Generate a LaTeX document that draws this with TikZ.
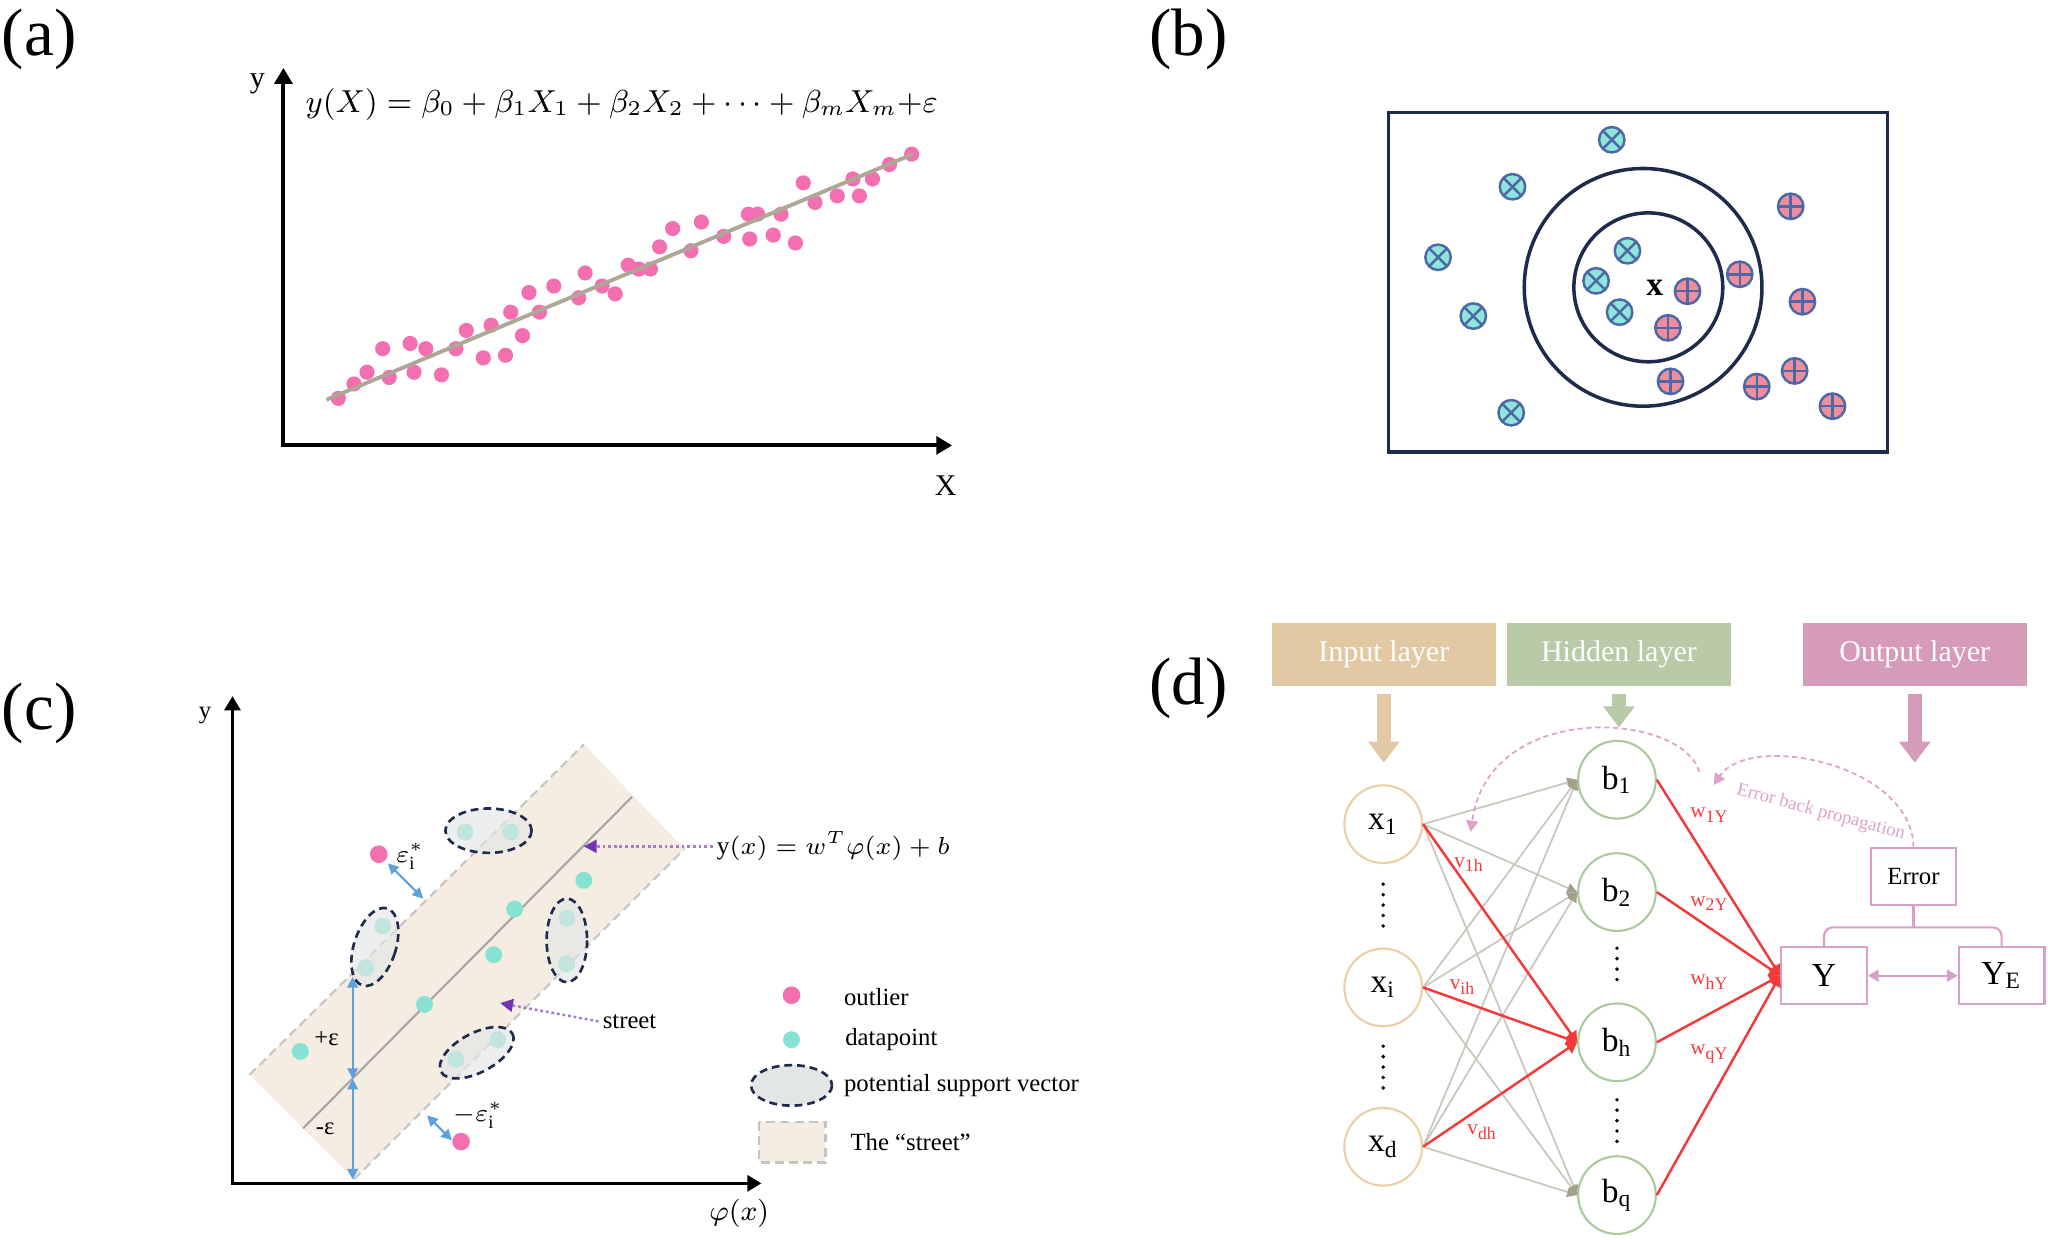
\documentclass[tikz,border=0pt]{standalone}
\usepackage{fontspec}
\setmainfont{Liberation Serif}
\usetikzlibrary{arrows.meta}
\definecolor{pinkdot}{HTML}{F46FB0}
\definecolor{reglc}{HTML}{AEA796}
\definecolor{navy}{HTML}{1E2B4B}
\definecolor{xfill}{HTML}{8FE5DA}
\definecolor{pfill}{HTML}{EF8D9C}
\definecolor{medge}{HTML}{4C68A6}
\definecolor{dptc}{HTML}{86E2D3}
\definecolor{streetc}{HTML}{F5EDE2}
\definecolor{streetln}{HTML}{C4C4C4}
\definecolor{epsblue}{HTML}{5DA0DC}
\definecolor{purpd}{HTML}{7433B0}
\definecolor{purpl}{HTML}{A57BD8}
\definecolor{svfill}{HTML}{E3E6E6}
\definecolor{inc}{HTML}{E3C9A3}
\definecolor{hidc}{HTML}{B8CAA8}
\definecolor{outc}{HTML}{D59BB9}
\definecolor{inedge}{HTML}{EBCFA6}
\definecolor{hidedge}{HTML}{ABC99C}
\definecolor{oedge}{HTML}{D7A0C9}
\definecolor{wred}{HTML}{F23A3A}
\definecolor{conng}{HTML}{CBC7BC}
\definecolor{conntip}{HTML}{A49E8B}
\definecolor{bpc}{HTML}{DDA3CB}
\begin{document}
\begin{tikzpicture}[x=0.013cm,y=-0.013cm,
    panel/.style={font=\fontsize{19}{22}\selectfont},
    axis/.style={line width=1.1pt,line join=miter,
      {Triangle[width=5pt,length=4.5pt]}-{Triangle[width=5pt,length=4.5pt]}},
    albl/.style={font=\fontsize{8.5}{10}\selectfont},
    eqn/.style={font=\fontsize{9}{11}\selectfont},
    pdot/.style={circle,fill=pinkdot,inner sep=0,minimum size=4.3pt},
    regl/.style={reglc,line width=1.1pt},
    frame/.style={navy,line width=1pt},
    xmark/.style={circle,draw=medge,line width=0.7pt,fill=xfill,inner sep=0,minimum size=7.2pt,
      path picture={\draw[medge,line width=0.7pt]
        (path picture bounding box.north west) -- (path picture bounding box.south east)
        (path picture bounding box.north east) -- (path picture bounding box.south west);}},
    pmark/.style={circle,draw=medge,line width=0.7pt,fill=pfill,inner sep=0,minimum size=7.2pt,
      path picture={\draw[medge,line width=0.7pt]
        (path picture bounding box.north) -- (path picture bounding box.south)
        (path picture bounding box.east) -- (path picture bounding box.west);}},
    sedge/.style={streetln,line width=0.6pt,dash pattern=on 2.5pt off 1.5pt},
    midl/.style={gray!70,line width=0.6pt},
    caxis/.style={line width=0.9pt,line join=miter,
      {Triangle[width=4.5pt,length=4pt]}-{Triangle[width=4.5pt,length=4pt]}},
    clbl/.style={font=\fontsize{7}{8}\selectfont,inner sep=1pt},
    cdot/.style={circle,fill=dptc,inner sep=0,minimum size=4.8pt},
    odot/.style={circle,fill=pinkdot,inner sep=0,minimum size=5pt},
    sv/.style={draw=navy,line width=0.75pt,dash pattern=on 2.2pt off 1.4pt,
      fill=svfill,fill opacity=0.65},
    eps/.style={epsblue,line width=0.6pt,
      {Triangle[width=3pt,length=3pt]}-{Triangle[width=3pt,length=3pt]}},
    parr/.style={purpl,line width=0.7pt,dash pattern=on 0.8pt off 0.8pt,
      -{Triangle[width=3.6pt,length=3.6pt,color=purpd]}},
    hdr/.style={text=white,font=\fontsize{8.5}{10}\selectfont,
      minimum width=63.4pt,minimum height=18pt,inner sep=0},
    fat/.style={line width=4pt,shorten <=2pt,-{Triangle[width=8.6pt,length=6pt]}},
    inn/.style={circle,draw=inedge,line width=0.6pt,minimum size=22pt,inner sep=0,
      font=\fontsize{9.5}{11}\selectfont},
    hid/.style={circle,draw=hidedge,line width=0.6pt,minimum size=22pt,inner sep=0,
      font=\fontsize{9.5}{11}\selectfont},
    obox/.style={draw=oedge,line width=0.6pt,minimum width=24.3pt,minimum height=16pt,
      inner sep=0,font=\fontsize{9.5}{11}\selectfont},
    vdot/.style={line width=1.1pt,line cap=round,dash pattern=on 0pt off 2.95pt},
    conn/.style={conng,line width=0.5pt,-{Triangle[width=2.8pt,length=2.8pt,color=conntip]}},
    wconn/.style={wred,line width=0.7pt,-{Triangle[width=3.6pt,length=3pt]}},
    wlab/.style={wred,font=\fontsize{6}{7}\selectfont,inner sep=0},
    bp/.style={bpc,line width=0.5pt,dash pattern=on 1.5pt off 1pt,
      -{Triangle[width=3.4pt,length=3.2pt,color=bpc]}},
    obrd/.style={oedge,line width=0.6pt}]
  \useasboundingbox (0,0) rectangle (1568,949);

  \node[panel] (pa) at (30,30) {(a)};
  \coordinate (ao) at (217,341);
  \coordinate (ay) at (217,52);
  \coordinate (ax) at (729,341);
  \draw[axis] (ay) -- (ao) -- (ax);
  \node[albl] (ylab) at (197,64) {y};
  \node[albl] (xlab) at (724,372) {X};
  \node[eqn] (eqa) at (476,80)
    {$y(X)=\beta_0+\beta_1X_1+\beta_2X_2+\cdots+\beta_mX_m{+}\varepsilon$};
  \path
    (259,305) node[pdot] (p1){}  (271,294) node[pdot] (p2){}  (281,285) node[pdot] (p3){}
    (293,267) node[pdot] (p4){}  (298,289) node[pdot] (p5){}  (314,263) node[pdot] (p6){}
    (317,285) node[pdot] (p7){}  (326,267) node[pdot] (p8){}  (338,287) node[pdot] (p9){}
    (349,267) node[pdot] (p10){} (357,253) node[pdot] (p11){} (370,274) node[pdot] (p12){}
    (376,249) node[pdot] (p13){} (387,272) node[pdot] (p14){} (391,239) node[pdot] (p15){}
    (400,257) node[pdot] (p16){} (405,224) node[pdot] (p17){} (413,239) node[pdot] (p18){}
    (424,219) node[pdot] (p19){} (443,228) node[pdot] (p20){} (448,209) node[pdot] (p21){}
    (461,219) node[pdot] (p22){} (471,225) node[pdot] (p23){} (481,203) node[pdot] (p24){}
    (489,206) node[pdot] (p25){} (498,206) node[pdot] (p26){} (505,189) node[pdot] (p27){}
    (515,175) node[pdot] (p28){} (529,192) node[pdot] (p29){} (537,170) node[pdot] (p30){}
    (554,181) node[pdot] (p31){} (573,164) node[pdot] (p32){} (574,183) node[pdot] (p33){}
    (580,164) node[pdot] (p34){} (592,180) node[pdot] (p35){} (598,164) node[pdot] (p36){}
    (609,186) node[pdot] (p37){} (615,140) node[pdot] (p38){} (624,155) node[pdot] (p39){}
    (641,150) node[pdot] (p40){} (653,137) node[pdot] (p41){} (658,150) node[pdot] (p42){}
    (668,137) node[pdot] (p43){} (681,126) node[pdot] (p44){} (698,118) node[pdot] (p45){};
  \coordinate (r0) at (250,306);
  \coordinate (r1) at (699,118);
  \draw[regl] (r0) -- (r1);

  \node[panel] (pb) at (910,30) {(b)};
  \draw[frame] (1063,86) rectangle (1445,346);
  \draw[frame] (1258,220) circle (91);
  \draw[frame] (1262,220) circle (57);
  \node[font=\fontsize{9.5}{11}\selectfont\bfseries] (xq) at (1267,220) {x};
  \path
    (1234,107) node[xmark] (n1){} (1158,143) node[xmark] (n2){} (1101,197) node[xmark] (n3){}
    (1128,242) node[xmark] (n4){} (1157,316) node[xmark] (n5){} (1246,192) node[xmark] (n6){}
    (1222,215) node[xmark] (n7){} (1240,239) node[xmark] (n8){};
  \path
    (1371,158) node[pmark] (q1){} (1332,210) node[pmark] (q2){} (1292,223) node[pmark] (q3){}
    (1277,251) node[pmark] (q4){} (1380,231) node[pmark] (q5){} (1279,292) node[pmark] (q6){}
    (1345,296) node[pmark] (q7){} (1374,284) node[pmark] (q8){} (1403,311) node[pmark] (q9){};

  \node[panel] (pc) at (30,546) {(c)};
  \fill[streetc] (191,823) -- (447,570) -- (524,650) -- (271,903) -- cycle;
  \draw[sedge] (191,823) -- (447,570);
  \draw[sedge] (271,903) -- (524,650);
  \draw[midl] (232,864) -- (484,610);
  \coordinate (co) at (178,906);
  \coordinate (cy) at (178,533);
  \coordinate (cx) at (583,906);
  \draw[caxis] (cy) -- (co) -- (cx);
  \node[clbl] (cyl) at (157,548) {y};
  \node[font=\fontsize{8}{9}\selectfont] (cxl) at (566,929) {$\varphi(x)$};
  \path
    (447,674) node[cdot] (d1){}  (394,696) node[cdot] (d2){}  (378,731) node[cdot] (d3){}
    (325,769) node[cdot] (d4){}  (230,805) node[cdot] (d5){}  (356,637) node[cdot] (d6){}
    (391,637) node[cdot] (d7){}  (293,709) node[cdot] (d8){}  (280,741) node[cdot] (d9){}
    (434,703) node[cdot] (d10){} (434,738) node[cdot] (d11){} (349,811) node[cdot] (d12){}
    (381,796) node[cdot] (d13){};
  \draw[sv] (374,636) ellipse [x radius=33, y radius=17];
  \draw[sv,rotate around={-18:(287,725)}] (287,725) ellipse [x radius=16, y radius=31];
  \draw[sv] (434,720) ellipse [x radius=15.5, y radius=32];
  \draw[sv,rotate around={28:(365,806)}] (365,806) ellipse [x radius=31, y radius=15];
  \node[odot] (o1) at (290,654) {};
  \node[odot] (o2) at (353,874) {};
  \node[font=\fontsize{7.5}{9}\selectfont,inner sep=0] (eo1) at (314,656) {$\varepsilon_{\mathrm{i}}^{*}$};
  \node[font=\fontsize{7.5}{9}\selectfont,inner sep=0] (eo2) at (366,854) {$-\varepsilon_{\mathrm{i}}^{*}$};
  \coordinate (s1) at (297,661);
  \coordinate (s2) at (324,688);
  \coordinate (s3) at (327,854);
  \coordinate (s4) at (346,873);
  \draw[eps] (s1) -- (s2);
  \draw[eps] (s3) -- (s4);
  \coordinate (e0) at (270,748);
  \coordinate (e1) at (270,826);
  \coordinate (e2) at (270,903);
  \draw[eps] (e0) -- (e1);
  \draw[eps] (e1) -- (e2);
  \node[clbl] (pe) at (250,795) {+ε};
  \node[clbl] (me) at (249,864) {-ε};
  \node[font=\fontsize{7.2}{9}\selectfont,inner sep=1pt] (eqc) at (638,648) {$\mathrm{y}(x)=w^{T}\varphi(x)+b$};
  \coordinate (t1) at (447,648);
  \draw[parr] (eqc.west) -- (t1);
  \node[clbl] (lst) at (482,782) {street};
  \coordinate (t2) at (383,768);
  \draw[parr] (lst.west) -- (t2);
  \node[odot] (lo) at (606,762) {};
  \node[cdot] (ld) at (606,796) {};
  \draw[sv,fill opacity=1] (606,831) ellipse [x radius=31, y radius=15.5];
  \draw[sedge,fill=streetc] (581,859) rectangle (632,890);
  \node[clbl,anchor=west] (llo) at (643,763) {outlier};
  \node[clbl,anchor=west] (lld) at (644,796) {datapoint};
  \node[clbl,anchor=west] (lsv) at (643,831) {potential support vector};
  \node[clbl,anchor=west] (lsr) at (648,874) {The “street”};

  \node[panel] (pd) at (910,527) {(d)};
  \node[hdr,fill=inc] (hin) at (1059.5,501) {Input layer};
  \node[hdr,fill=hidc] (hhid) at (1239.5,501) {Hidden layer};
  \node[hdr,fill=outc] (hout) at (1466,501) {Output layer};
  \coordinate (ain) at (1059.5,584);
  \coordinate (ahid) at (1239.5,557);
  \coordinate (aout) at (1466,584);
  \draw[fat,inc] (hin.south) -- (ain);
  \draw[fat,hidc] (hhid.south) -- (ahid);
  \draw[fat,outc] (hout.south) -- (aout);
  \node[inn] (x1) at (1059,631) {x\textsubscript{1}};
  \node[inn] (xi) at (1059,756) {x\textsubscript{i}};
  \node[inn] (xd) at (1059,878) {x\textsubscript{d}};
  \node[hid] (b1) at (1238,597) {b\textsubscript{1}};
  \node[hid] (b2) at (1238,683) {b\textsubscript{2}};
  \node[hid] (bh) at (1238,798) {b\textsubscript{h}};
  \node[hid] (bq) at (1238,915) {b\textsubscript{q}};
  \node[obox] (Y) at (1396.5,747) {Y};
  \node[obox] (YE) at (1532.5,747) {Y\textsubscript{E}};
  \node[obox,font=\fontsize{7}{8}\selectfont] (err) at (1465,671) {Error};
  \draw[vdot] (1059,677) -- (1059,709);
  \draw[vdot] (1059,801) -- (1059,834);
  \draw[vdot] (1238,726) -- (1238,757);
  \draw[vdot] (1238,842) -- (1238,875);
  \draw[conn] (x1.east) -- (b1.west);
  \draw[conn] (x1.east) -- (b2.west);
  \draw[conn] (x1.east) -- (bq.west);
  \draw[conn] (xi.east) -- (b1.west);
  \draw[conn] (xi.east) -- (b2.west);
  \draw[conn] (xi.east) -- (bq.west);
  \draw[conn] (xd.east) -- (b1.west);
  \draw[conn] (xd.east) -- (b2.west);
  \draw[conn] (xd.east) -- (bq.west);
  \draw[wconn] (x1.east) -- (bh.west);
  \draw[wconn] (xi.east) -- (bh.west);
  \draw[wconn] (xd.east) -- (bh.west);
  \draw[wconn] (b1.east) -- (Y.west);
  \draw[wconn] (b2.east) -- (Y.west);
  \draw[wconn] (bh.east) -- (Y.west);
  \draw[wconn] (bq.east) -- (Y.west);
  \node[wlab] (v1) at (1125,662) {v\textsubscript{1h}};
  \node[wlab] (v2) at (1120,756) {v\textsubscript{ih}};
  \node[wlab] (v3) at (1135,867) {v\textsubscript{dh}};
  \node[wlab] (w1) at (1309,624) {w\textsubscript{1Y}};
  \node[wlab] (w2) at (1309,692) {w\textsubscript{2Y}};
  \node[wlab] (w3) at (1309,752) {w\textsubscript{hY}};
  \node[wlab] (w4) at (1309,807) {w\textsubscript{qY}};
  \draw[obrd,{Triangle[width=3.4pt,length=3pt]}-{Triangle[width=3.4pt,length=3pt]}] (Y.east) -- (YE.west);
  \coordinate (brk) at (1465,710);
  \draw[obrd,rounded corners=2.5pt] (Y.north) |- (brk) -| (YE.north);
  \draw[obrd] (err.south) -- (brk);
  \coordinate (bp1) at (1312,601);
  \coordinate (bp2) at (1301,591);
  \coordinate (bp3) at (1126,637);
  \draw[bp] (err.north) .. controls (1464,585) and (1340,560) .. (bp1);
  \draw[bp] (bp2) .. controls (1288,545) and (1140,535) .. (bp3);
  \node[bpc,font=\fontsize{5.3}{6}\selectfont,rotate=-15,inner sep=0] (bpl) at (1394,622) {Error back propagation};
\end{tikzpicture}
\end{document}
